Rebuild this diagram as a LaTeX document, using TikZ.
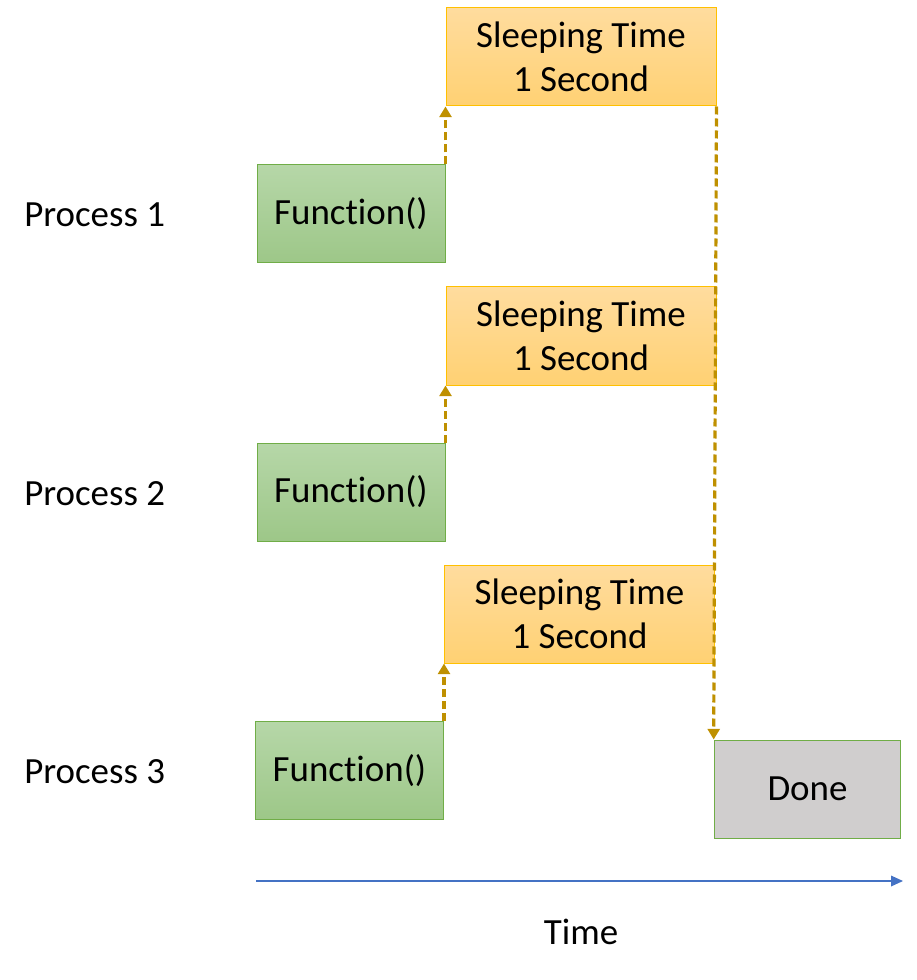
\documentclass[tikz,border=0pt]{standalone}
\usepackage{fontspec}
\setmainfont{Carlito}[Ligatures=NoCommon]
\usetikzlibrary{arrows.meta}
\definecolor{funcgreen}{HTML}{70AD47}
\definecolor{sleepgold}{HTML}{FFC000}
\definecolor{arrowgold}{HTML}{BF9000}
\definecolor{axisblue}{HTML}{4472C4}
\definecolor{donegray}{HTML}{D0CECE}
\begin{document}
\begin{tikzpicture}[x=0.75pt, y=-0.75pt,
		every node/.style={font=\fontsize{27.7}{33}\selectfont, inner sep=0pt},
		funcbox/.style={rectangle, draw=funcgreen, line width=0.75pt,
			top color={rgb,255:red,182;green,215;blue,168}, bottom color={rgb,255:red,157;green,199;blue,136},
			minimum width=141pt, minimum height=73.5pt},
		sleepbox/.style={rectangle, draw=sleepgold, line width=0.75pt, align=center,
			top color={rgb,255:red,255;green,220;blue,158}, bottom color={rgb,255:red,255;green,209;blue,115},
			minimum width=202.5pt, minimum height=73.5pt},
		donebox/.style={rectangle, draw=funcgreen, line width=0.75pt, fill=donegray,
			minimum width=140pt, minimum height=73.5pt},
		wait/.style={draw=arrowgold, line width=2.4pt, dash pattern=on 6pt off 3pt,
			-{Triangle[length=8pt, width=9pt]}},
		proc/.style={anchor=west}
		]
	\useasboundingbox (0,0) rectangle (916,980);
	% processes
	\node [proc] (p1) at (24,215) {Process 1};
	\node [proc] (p2) at (24,494) {Process 2};
	\node [proc] (p3) at (24,772) {Process 3};
	% function calls
	\node [funcbox] (f1) at (351,214) {Function()};
	\node [funcbox] (f2) at (351,492) {Function()};
	\node [funcbox] (f3) at (349.5,770.5) {Function()};
	% sleeping
	\node [sleepbox] (s1) at (581,57) {Sleeping Time\\1 Second};
	\node [sleepbox] (s2) at (581,336) {Sleeping Time\\1 Second};
	\node [sleepbox] (s3) at (579.5,614) {Sleeping Time\\1 Second};
	\node [donebox] (done) at (807.5,789) {Done};
	\draw [wait] (f1.north east) -- (s1.south west);
	\draw [wait] (f2.north east) -- (s2.south west);
	\draw [wait] (f3.north east) -- (s3.south west);
	\draw [wait] (s1.south east) -- (done.north west);
	% time axis
	\coordinate (t0) at (256,881);
	\coordinate (t1) at (903,881);
	\draw [axisblue, line width=0.9pt, -{Triangle[length=9pt, width=8pt]}] (t0) -- (t1);
	\node (time) at (581,932) {Time};
\end{tikzpicture}
\end{document}
